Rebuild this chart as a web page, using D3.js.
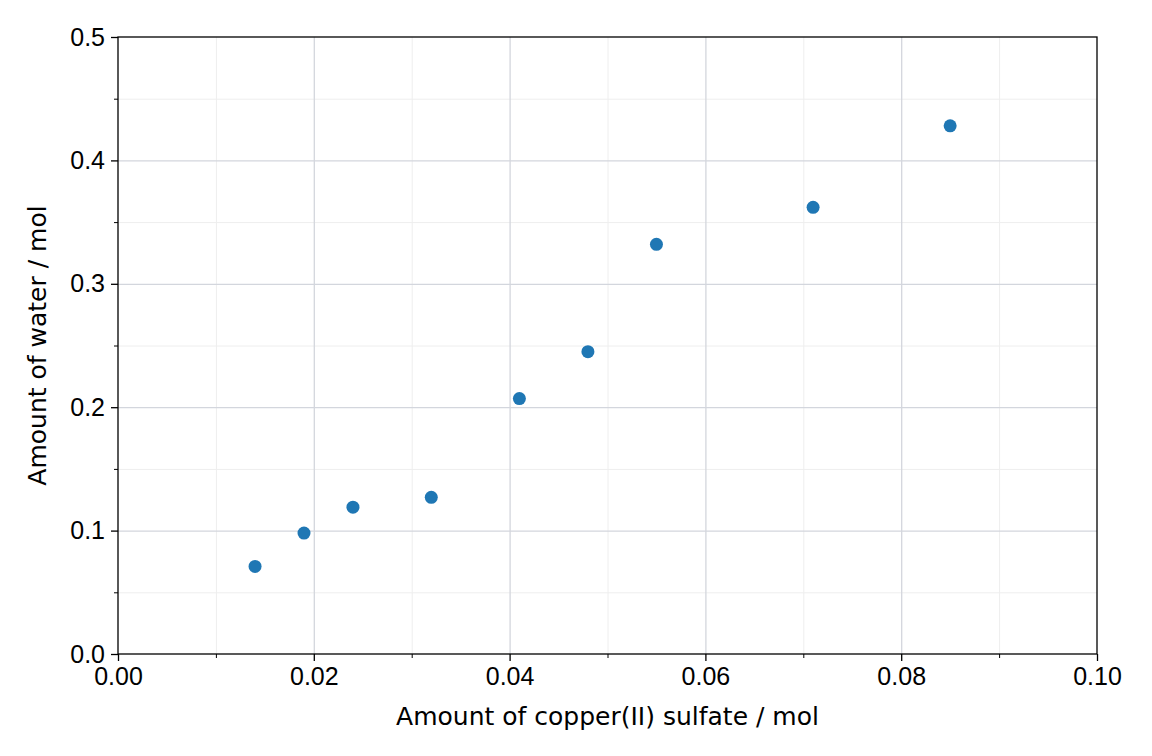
<html>
  <head>
    <script src="https://d3js.org/d3.v7.min.js"></script>
    <style>
      body { margin: 0; background: white; }
      svg { font-family: "DejaVu Sans", sans-serif; }
      .axis .tick text { font-size: 25px; fill: black; }
      .axis path { display: none; }
      .axis line { stroke: black; stroke-width: 1.3; }
      .minor line { stroke: black; stroke-width: 1; }
      .grid-major line { stroke: #d3d6dd; stroke-width: 1.3; }
      .grid-minor line { stroke: #eeeeee; stroke-width: 1; }
      .grid path { display: none; }
    </style>
  </head>
  <body>
    <script type="text/javascript">
      // data
      var copperSulfate = [0.014, 0.019, 0.024, 0.032, 0.041, 0.048, 0.055, 0.071, 0.085];
      var water = [0.071, 0.098, 0.119, 0.127, 0.207, 0.245, 0.332, 0.362, 0.428];
      var xTicks = [0, 0.02, 0.04, 0.06, 0.08, 0.1];
      var xMinorTicks = [0.01, 0.03, 0.05, 0.07, 0.09];
      var yTicks = [0, 0.1, 0.2, 0.3, 0.4, 0.5];
      var yMinorTicks = [0.05, 0.15, 0.25, 0.35, 0.45];

      var width = 1152, height = 756;
      var plotLeft = 118, plotRight = 1097, plotTop = 37, plotBottom = 654;

      var svg = d3.select("body").append("svg")
        .attr("width", width)
        .attr("height", height);

      var x = d3.scaleLinear().domain([0, 0.1]).range([plotLeft, plotRight]);
      var y = d3.scaleLinear().domain([0, 0.5]).range([plotBottom, plotTop]);

      // gridlines
      svg.append("g").attr("class", "grid grid-minor")
        .attr("transform", "translate(0," + plotBottom + ")")
        .call(d3.axisBottom(x).tickValues(xMinorTicks).tickFormat("").tickSize(-(plotBottom - plotTop)));
      svg.append("g").attr("class", "grid grid-minor")
        .attr("transform", "translate(" + plotLeft + ",0)")
        .call(d3.axisLeft(y).tickValues(yMinorTicks).tickFormat("").tickSize(-(plotRight - plotLeft)));
      svg.append("g").attr("class", "grid grid-major")
        .attr("transform", "translate(0," + plotBottom + ")")
        .call(d3.axisBottom(x).tickValues(xTicks.slice(1, -1)).tickFormat("").tickSize(-(plotBottom - plotTop)));
      svg.append("g").attr("class", "grid grid-major")
        .attr("transform", "translate(" + plotLeft + ",0)")
        .call(d3.axisLeft(y).tickValues(yTicks.slice(1, -1)).tickFormat("").tickSize(-(plotRight - plotLeft)));

      // frame
      svg.append("rect")
        .attr("x", plotLeft).attr("y", plotTop)
        .attr("width", plotRight - plotLeft).attr("height", plotBottom - plotTop)
        .attr("fill", "none").attr("stroke", "black").attr("stroke-width", 1.3);

      // axes
      svg.append("g").attr("class", "axis")
        .attr("transform", "translate(0," + plotBottom + ")")
        .call(d3.axisBottom(x).tickValues(xTicks).tickFormat(d3.format(".2f")).tickSize(7).tickPadding(6));
      svg.append("g").attr("class", "axis minor")
        .attr("transform", "translate(0," + plotBottom + ")")
        .call(d3.axisBottom(x).tickValues(xMinorTicks).tickFormat("").tickSize(4));
      svg.append("g").attr("class", "axis")
        .attr("transform", "translate(" + plotLeft + ",0)")
        .call(d3.axisLeft(y).tickValues(yTicks).tickFormat(d3.format(".1f")).tickSize(7).tickPadding(6));
      svg.append("g").attr("class", "axis minor")
        .attr("transform", "translate(" + plotLeft + ",0)")
        .call(d3.axisLeft(y).tickValues(yMinorTicks).tickFormat("").tickSize(4));

      // points
      svg.append("g").selectAll("circle")
        .data(copperSulfate)
        .enter().append("circle")
        .attr("cx", d => x(d))
        .attr("cy", (d, i) => y(water[i]))
        .attr("r", 6.5)
        .attr("fill", "#1f77b4");

      // axis labels
      svg.append("text")
        .attr("x", (plotLeft + plotRight) / 2)
        .attr("y", 725)
        .attr("text-anchor", "middle")
        .attr("font-size", "25px")
        .text("Amount of copper(II) sulfate / mol");
      svg.append("text")
        .attr("transform", "translate(46," + (plotTop + plotBottom) / 2 + ") rotate(-90)")
        .attr("text-anchor", "middle")
        .attr("font-size", "25px")
        .text("Amount of water / mol");
    </script>
  </body>
</html>
